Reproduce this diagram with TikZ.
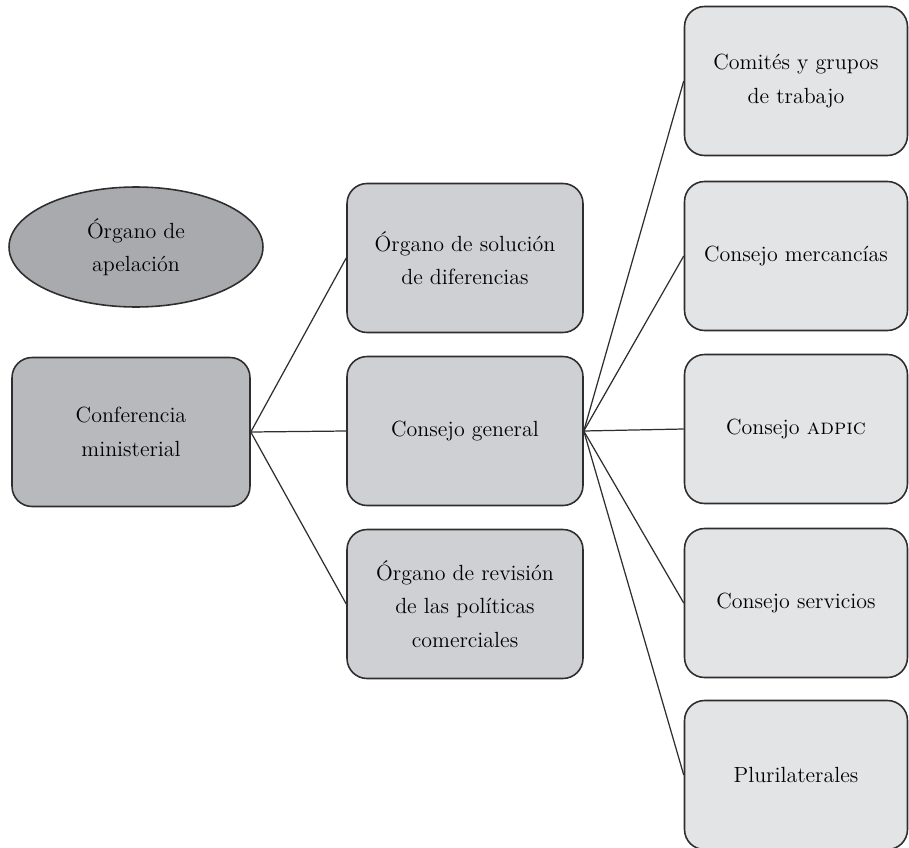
\documentclass[tikz,border=0pt]{standalone}
\usepackage{tikz}
\usetikzlibrary{shapes.geometric}
\definecolor{grisA}{HTML}{A9AAAD}
\definecolor{grisB}{HTML}{B8B9BD}
\definecolor{grisC}{HTML}{CFD0D3}
\definecolor{grisD}{HTML}{E3E4E6}
\definecolor{trazo}{HTML}{2E2E2E}

\begin{document}
\begin{tikzpicture}[x=0.02cm,y=-0.02cm,
		caja/.style={draw=trazo,line width=0.9pt,rounded corners=0.4cm,align=center,
			minimum width=4.72cm,minimum height=2.98cm,inner sep=2pt,
			font=\fontsize{12.5}{19}\selectfont},
		nivel1/.style={caja,fill=grisB,minimum width=4.76cm},
		nivel2/.style={caja,fill=grisC},
		nivel3/.style={caja,fill=grisD,minimum width=4.46cm},
		rama/.style={draw=trazo,line width=0.7pt}]
		\useasboundingbox (0,0) rectangle (909,848);
		% organo de apelacion (suelto)
		\node[ellipse,draw=trazo,line width=0.9pt,fill=grisA,minimum width=5.08cm,minimum height=2.4cm,
			align=center,font=\fontsize{12.5}{19}\selectfont] (apel) at (136,247) {Órgano de\\apelación};
		% primer nivel
		\node[nivel1] (conf) at (131,432) {Conferencia\\ministerial};
		% segundo nivel
		\node[nivel2] (osd) at (465,258) {Órgano de solución\\de diferencias};
		\node[nivel2] (cgen) at (465,431) {Consejo general};
		\node[nivel2] (orpc) at (465,604) {Órgano de revisión\\de las políticas\\comerciales};
		% tercer nivel
		\node[nivel3] (comi) at (796,81) {Comités y grupos\\de trabajo};
		\node[nivel3] (merc) at (796,256) {Consejo mercancías};
		\node[nivel3] (adpic) at (796,429) {Consejo \textsc{adpic}};
		\node[nivel3] (serv) at (796,603) {Consejo servicios};
		\node[nivel3] (plur) at (796,775) {Plurilaterales};
		% ramas
		\foreach \n in {osd,cgen,orpc}
			\draw[rama] (conf.east) -- (\n.west);
		\foreach \n in {comi,merc,adpic,serv,plur}
			\draw[rama] (cgen.east) -- (\n.west);
\end{tikzpicture}
\end{document}
